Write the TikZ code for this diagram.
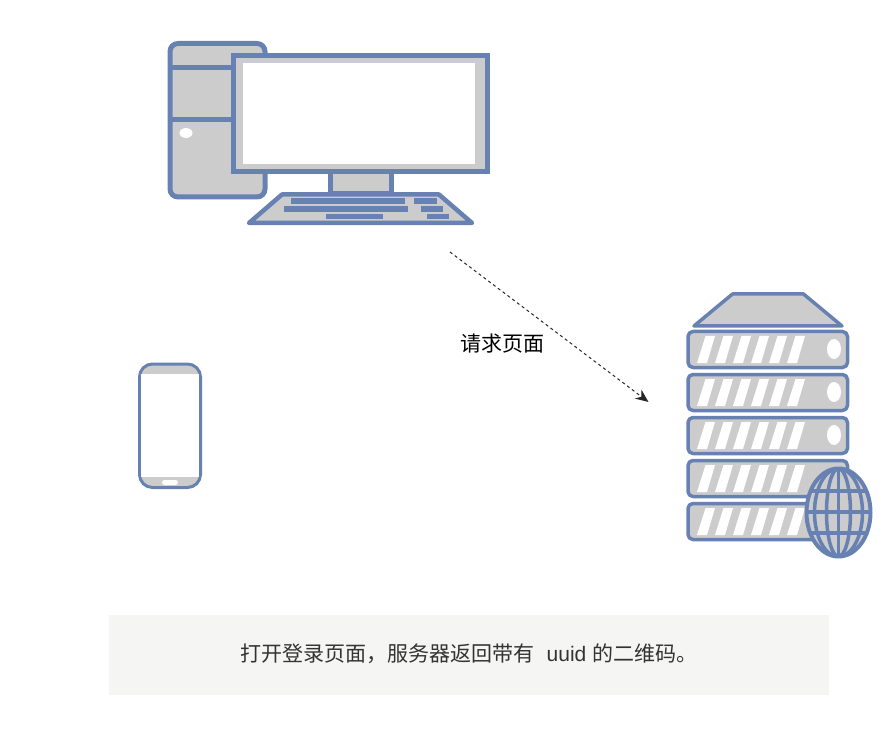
\documentclass[tikz,border=0pt]{standalone}
\usepackage{fontspec}
\usepackage{tikz}
\usetikzlibrary{arrows.meta}
\setmainfont{Liberation Sans}
\newfontfamily\cjk{Noto Sans CJK SC}
\definecolor{iconblue}{HTML}{6881B3}
\definecolor{icongray}{HTML}{CCCCCC}
\definecolor{captionbg}{HTML}{F5F5F3}
\definecolor{captiontext}{HTML}{333333}

\begin{document}
\begin{tikzpicture}[x=1pt,y=-1pt]
  \tikzset{icon/.style={draw=iconblue,fill=icongray,line join=round},
           key/.style={fill=iconblue},
           slat/.style={fill=white},
           label/.style={font=\fontsize{21}{25}\selectfont,inner sep=0pt}}
  \useasboundingbox (0,0) rectangle (895,746);
  % computer
  \draw[icon,line width=5pt,rounded corners=8pt] (170,43.5) rectangle (265,197);
  \draw[iconblue,line width=5pt] (170,68) -- (234,68) (170,120) -- (234,120);
  \fill[white] (186,133) ellipse [x radius=6.5,y radius=5];
  \draw[icon,line width=5pt,line join=miter] (233.5,55.5) rectangle (487.5,172);
  \fill[white] (243,63) rectangle (475,164);
  \draw[icon,line width=5pt] (330,172) rectangle (391.5,194);
  \draw[icon,line width=4.5pt] (282,194.5) -- (439,194.5) -- (472,223) -- (249,223) -- cycle;
  \foreach \xa/\xb/\yy in {291/405/198.5, 414/437/198.5, 284/408/206.5, 421/443/206.5, 326/383/214, 427/449/214}
    \fill[key] (\xa,\yy) rectangle (\xb,\yy+5.5);
  % server
  \draw[icon,line width=3.5pt] (732.5,294) -- (803.5,294) -- (842,326) -- (694,326) -- cycle;
  \foreach \yy in {330,373,416,459,502} {
    \draw[icon,line width=3.5pt,rounded corners=5pt] (688,\yy+1.5) rectangle (847.5,\yy+37.5);
    \foreach \i in {0,...,5}
      \fill[slat] (697+18*\i,\yy+33) -- (707+18*\i,\yy+33) -- (715+18*\i,\yy+6) -- (705.5+18*\i,\yy+6) -- cycle;
  }
  \foreach \yy in {349,392,435}
    \fill[white] (834,\yy) ellipse [x radius=7,y radius=10];
  \draw[icon,line width=4pt] (838.5,512.5) ellipse [x radius=32,y radius=44];
  \begin{scope}
    \clip (838.5,512.5) ellipse [x radius=32,y radius=44];
    \draw[iconblue,line width=3.5pt] (838.5,467) -- (838.5,558)
      (805,491) -- (872,491) (805,512) -- (872,512) (805,533) -- (872,533);
    \foreach \rx in {12,24}
      \draw[iconblue,line width=3.5pt] (838.5,512.5) ellipse [x radius=\rx,y radius=44];
  \end{scope}
  % phone
  \draw[iconblue,line width=3pt,fill=icongray,rounded corners=13pt] (139.5,364) rectangle (200.5,487.5);
  \fill[white] (141,374) rectangle (199,477);
  \fill[white,rounded corners=2.5pt] (162,480) rectangle (178,485);
  % request
  \coordinate (reqstart) at (450,252);
  \coordinate (reqend) at (648.5,402);
  \draw[line width=1pt,dash pattern=on 3pt off 3pt,-{Stealth[length=13pt,width=11pt]},color=black!85] (reqstart) -- (reqend);
  \node[label,text=black] (reqlabel) at (502,344) {\cjk 请求页面};
  % caption
  \node[fill=captionbg,minimum width=720pt,minimum height=80pt,inner sep=0pt] (captionbox) at (469,655) {};
  \node[label,text=captiontext,anchor=west] (caption) at (240,654) {\cjk 打开登录页面，服务器返回带有\hspace{12.5pt}{\rmfamily uuid}\hspace{6.5pt}的二维码。};
\end{tikzpicture}
\end{document}
